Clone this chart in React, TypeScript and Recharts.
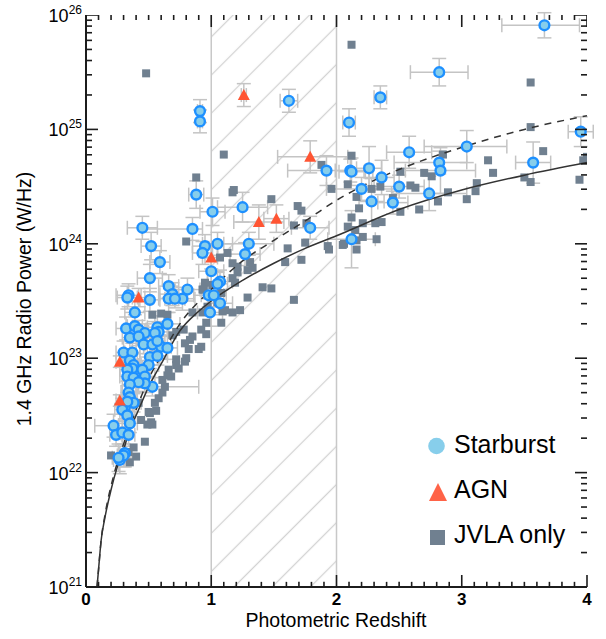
import React from "react";
import {
    ScatterChart,
    Scatter,
    XAxis,
    YAxis,
    ErrorBar,
    ReferenceArea,
    ReferenceLine,
    Legend,
} from "recharts";

type Err = number | [number, number];
type Src = [number, number, Err, Err];

// [redshift, log10 P(1.4GHz), z error, log P error]
const starburst: Src[] = [
    [3.66, 25.91, [0.34, 0.28], 0.11],
    [2.82, 25.5, 0.23, 0.12],
    [2.35, 25.28, 0.05, 0.1],
    [1.62, 25.25, 0.07, 0.1],
    [0.91, 25.16, 0.02, 0.1],
    [0.91, 25.07, 0.02, 0.1],
    [2.1, 25.06, 0.05, 0.12],
    [3.95, 24.98, 0.1, 0.13],
    [3.04, 24.85, [0.34, 0.32], 0.14],
    [2.58, 24.8, 0.18, 0.14],
    [3.57, 24.71, 0.14, 0.18],
    [2.82, 24.71, [0.36, 0.22], 0.1],
    [2.83, 24.64, 0.28, 0.2],
    [1.92, 24.64, [0.31, 0.37], 0.13],
    [2.11, 24.64, 0.12, 0.1],
    [2.12, 24.63, 0.1, 0.12],
    [2.26, 24.66, 0.1, 0.19],
    [2.36, 24.58, 0.1, 0.15],
    [2.2, 24.48, 0.28, 0.1],
    [2.5, 24.5, 0.2, 0.1],
    [2.74, 24.44, 0.3, 0.15],
    [2.28, 24.37, 0.1, 0.2],
    [2.45, 24.36, 0.12, 0.1],
    [1.01, 24.28, 0.1, 0.12],
    [1.25, 24.32, 0.2, 0.13],
    [1.79, 24.14, 0.15, 0.1],
    [2.12, 24.04, 0.19, 0.25],
    [1.3, 24.0, 0.2, 0.1],
    [1.05, 24.0, 0.12, 0.1],
    [0.95, 23.98, 0.1, 0.1],
    [0.88, 24.43, 0.06, 0.12],
    [0.45, 24.14, 0.12, 0.1],
    [0.85, 24.13, [0.4, 0.08], 0.1],
    [0.52, 23.98, 0.08, 0.12],
    [0.93, 23.92, 0.08, 0.1],
    [1.27, 23.91, 0.12, 0.1],
    [1.0, 23.76, 0.1, 0.12],
    [1.07, 23.67, 0.1, 0.1],
    [1.05, 23.65, 0.08, 0.1],
    [0.98, 23.55, 0.12, 0.1],
    [1.02, 23.55, 0.1, 0.1],
    [1.07, 23.48, 0.1, 0.1],
    [0.99, 23.4, 0.1, 0.12],
    [0.59, 23.84, 0.08, 0.1],
    [0.51, 23.7, 0.1, 0.12],
    [0.66, 23.63, 0.08, 0.1],
    [0.81, 23.6, 0.1, 0.1],
    [0.34, 23.55, 0.1, 0.1],
    [0.33, 23.53, 0.08, 0.1],
    [0.51, 23.51, 0.08, 0.1],
    [0.69, 23.56, 0.1, 0.1],
    [0.66, 23.52, 0.08, 0.12],
    [0.77, 23.52, 0.1, 0.1],
    [0.71, 23.52, 0.08, 0.08],
    [0.39, 23.4, 0.08, 0.1],
    [0.65, 23.3, 0.1, 0.1],
    [0.32, 23.26, 0.08, 0.1],
    [0.39, 23.28, 0.06, 0.1],
    [0.42, 23.25, 0.06, 0.08],
    [0.47, 23.22, 0.08, 0.08],
    [0.35, 23.18, 0.06, 0.1],
    [0.42, 23.19, 0.06, 0.08],
    [0.57, 23.27, 0.08, 0.1],
    [0.58, 23.23, 0.08, 0.08],
    [0.55, 23.22, 0.06, 0.1],
    [0.46, 23.12, 0.06, 0.08],
    [0.53, 23.12, 0.06, 0.08],
    [0.6, 23.1, 0.08, 0.1],
    [0.65, 23.09, 0.08, 0.1],
    [0.57, 23.15, 0.06, 0.08],
    [0.3, 23.05, 0.06, 0.1],
    [0.37, 23.05, 0.06, 0.08],
    [0.35, 22.98, 0.06, 0.08],
    [0.38, 22.94, 0.06, 0.1],
    [0.37, 22.91, 0.06, 0.08],
    [0.33, 22.9, 0.06, 0.1],
    [0.51, 23.01, 0.08, 0.1],
    [0.57, 23.02, 0.08, 0.08],
    [0.5, 22.94, 0.08, 0.1],
    [0.33, 22.84, 0.06, 0.08],
    [0.38, 22.83, 0.06, 0.08],
    [0.45, 22.9, 0.06, 0.08],
    [0.47, 22.84, 0.08, 0.1],
    [0.53, 22.75, [0.13, 0.37], 0.08],
    [0.47, 22.78, 0.06, 0.08],
    [0.42, 22.79, 0.06, 0.08],
    [0.35, 22.77, 0.06, 0.08],
    [0.34, 22.7, 0.06, 0.1],
    [0.35, 22.66, 0.06, 0.1],
    [0.38, 22.61, 0.06, 0.08],
    [0.31, 22.57, 0.06, 0.1],
    [0.33, 22.62, 0.06, 0.08],
    [0.29, 22.55, 0.06, 0.1],
    [0.33, 22.5, 0.06, 0.1],
    [0.35, 22.43, 0.06, 0.08],
    [0.22, 22.41, [0.15, 0.04], 0.1],
    [0.24, 22.33, 0.05, 0.1],
    [0.29, 22.35, 0.05, 0.1],
    [0.34, 22.33, 0.05, 0.1],
    [0.31, 22.17, 0.05, 0.12],
    [0.27, 22.11, 0.05, 0.12],
    [0.3, 22.15, 0.05, 0.1],
    [0.26, 22.13, 0.05, 0.12],
];

const agn: Src[] = [
    [1.26, 25.3, 0.02, 0.1],
    [1.79, 24.76, [0.26, 0.3], 0.14],
    [1.38, 24.19, 0.2, 0.15],
    [1.52, 24.22, 0.1, 0.12],
    [1.0, 23.88, 0.05, 0.1],
    [0.42, 23.53, 0.05, 0.08],
    [0.27, 22.97, 0.03, 0.05],
    [0.27, 22.63, 0.03, 0.05],
];

const jvlaOnly: [number, number][] = [
    [2.12, 25.74], [3.55, 25.41], [3.55, 25.02], [0.48, 25.49], [1.1, 24.78], [2.12, 24.77],
    [3.65, 24.81], [4.0, 24.76], [3.97, 24.73], [3.21, 24.73], [3.25, 24.62], [2.85, 24.78],
    [1.88, 24.69], [3.5, 24.58], [3.55, 24.54], [3.94, 24.56], [3.12, 24.53], [3.11, 24.46],
    [3.04, 24.39], [2.89, 24.45], [2.81, 24.37], [2.66, 24.3], [2.76, 24.59], [2.7, 24.62],
    [2.51, 24.63], [2.59, 24.51], [2.63, 24.49], [2.45, 24.4], [2.51, 24.28], [2.35, 24.5],
    [2.28, 24.48], [2.16, 24.41], [2.18, 24.31], [2.12, 24.23], [2.09, 24.15], [2.15, 24.12],
    [2.21, 24.18], [2.21, 24.06], [2.31, 24.18], [2.36, 24.19], [2.32, 24.04], [2.09, 24.52],
    [1.96, 24.48], [1.17, 24.45], [1.48, 24.39], [1.69, 24.33], [1.72, 24.29], [1.76, 24.18],
    [1.66, 24.16], [1.61, 23.96], [1.75, 24.01], [1.93, 23.98], [2.06, 24.0], [2.16, 24.03],
    [2.16, 23.95], [1.94, 23.95], [2.05, 23.99], [1.59, 23.84], [1.72, 23.86], [1.41, 23.62],
    [1.48, 23.61], [1.66, 23.51], [1.13, 23.92], [1.07, 23.88], [1.17, 23.83], [1.21, 23.8],
    [1.21, 23.75], [1.31, 23.84], [1.33, 23.79], [1.29, 23.77], [0.95, 23.66], [0.93, 23.6],
    [1.01, 23.64], [1.17, 23.7], [1.19, 23.66], [1.29, 23.53], [1.23, 23.42], [1.17, 23.4],
    [1.11, 23.42], [1.05, 23.49], [1.09, 23.41], [1.08, 23.31], [0.96, 23.31], [0.92, 23.25],
    [0.96, 23.21], [0.85, 23.19], [0.83, 23.16], [0.79, 23.13], [0.78, 23.25], [0.72, 23.23],
    [0.69, 23.2], [0.9, 23.08], [0.79, 22.97], [0.74, 22.91], [0.72, 22.99], [0.65, 22.85],
    [0.61, 22.81], [0.63, 22.75], [0.61, 22.7], [0.58, 22.65], [0.55, 22.61], [0.51, 22.52],
    [0.53, 22.42], [0.85, 23.4], [0.93, 23.4], [0.97, 23.45], [1.08, 23.57], [0.92, 23.1],
    [0.82, 23.08], [0.8, 23.0], [0.72, 22.94], [0.66, 22.9], [0.68, 22.84], [0.5, 22.53],
    [0.52, 22.44], [0.49, 22.42], [0.47, 22.27], [0.44, 22.46], [0.42, 22.61], [0.2, 22.15],
    [0.34, 22.18], [0.38, 22.22], [0.4, 22.14], [0.56, 22.54], [0.8, 24.02], [0.94, 23.6],
    [0.53, 23.38], [0.6, 23.39], [0.65, 23.38], [0.88, 24.58], [1.18, 24.47], [0.35, 22.09],
];

// detection limit curves
const limitSolid: [number, number][] = [
    [0.088, 21.0], [0.1, 21.15], [0.12, 21.4], [0.15, 21.6], [0.2, 21.85], [0.25, 22.05],
    [0.3, 22.2], [0.35, 22.38], [0.4, 22.5], [0.5, 22.75], [0.6, 22.95], [0.75, 23.24],
    [0.9, 23.41], [1.0, 23.5], [1.25, 23.68], [1.5, 23.83], [1.75, 23.96], [2.0, 24.07],
    [2.5, 24.3], [3.0, 24.47], [3.5, 24.6], [4.0, 24.71],
];

const limitDashed: [number, number][] = [
    [0.088, 21.0], [0.1, 21.15], [0.12, 21.4], [0.15, 21.62], [0.22, 21.97], [0.3, 22.25],
    [0.4, 22.55], [0.5, 22.82], [0.6, 23.02], [0.75, 23.3], [1.0, 23.6], [1.25, 23.85],
    [1.5, 24.03], [1.75, 24.2], [2.0, 24.38], [2.35, 24.58], [2.5, 24.65], [3.05, 24.86],
    [3.5, 25.0], [4.0, 25.12],
];

const xMajor = [0, 1, 2, 3, 4];
const yMajor = [21, 22, 23, 24, 25, 26];
const legendLabels = ["Starburst", "AGN", "JVLA only"];

const xMinor: number[] = [];
for (let i = 1; i < 40; i++) if (i % 10 !== 0) xMinor.push(i / 10);
const yMinor: number[] = [];
for (let d = 21; d < 26; d++) for (let k = 2; k < 10; k++) yMinor.push(d + Math.log10(k));
const xTicks = [...xMajor, ...xMinor];

const toRows = (pts: Src[]) => pts.map(([z, p, ez, ep]) => ({ z, p, ez, ep }));
const sbRows = toRows(starburst);
const agnRows = toRows(agn);
const jvlaRows = jvlaOnly.map(([z, p]) => ({ z, p }));
const solidRows = limitSolid.map(([z, p]) => ({ z, p }));
const dashedRows = limitDashed.map(([z, p]) => ({ z, p }));

// inward frame ticks (top, left, right), placed through the chart scales
const frameRows = [
    ...xTicks.map((v) => ({ z: v, p: 26, side: "t", major: Number.isInteger(v) })),
    ...[...yMajor, ...yMinor].flatMap((v) => [
        { z: 0, p: v, side: "l", major: Number.isInteger(v) },
        { z: 4, p: v, side: "r", major: Number.isInteger(v) },
    ]),
];

const FONT = "'Liberation Sans', Arial, Helvetica, sans-serif";
const AXIS = "#1c1c1c";
const ERR = "#c4c4c4";
const SB_FILL = "#87CEEB";
const SB_EDGE = "#1E90FF";
const AGN_COLOR = "#FF5533";
const JVLA_COLOR = "#708090";

const BottomLabel = ({ x, y, payload }: any) => (
    <text x={x} y={y + 18} textAnchor="middle" fontSize={17} fontWeight={600} fill="#000">
        {payload.value}
    </text>
);

const LeftLabel = ({ x, y, payload }: any) => (
    <text x={x - 4} y={y + 7} textAnchor="end" fontSize={18} fill="#000">
        10<tspan dy={-8} fontSize={12}>{payload.value}</tspan>
    </text>
);

const TickMark = ({ cx, cy, payload }: any) => {
    const { side, major } = payload;
    const len = major ? 12 : side === "t" ? 5 : 6;
    let d = "";
    if (side === "t") d = `M${cx},${cy}V${cy + len}`;
    else if (side === "l") d = `M${cx},${cy}H${cx + len}`;
    else d = `M${cx},${cy}H${cx - len}`;
    return <path d={d} stroke={AXIS} strokeWidth={1.6} fill="none" />;
};

const Circle = ({ cx, cy }: any) => (
    <circle cx={cx} cy={cy} r={4.9} fill={SB_FILL} stroke={SB_EDGE} strokeWidth={2.4} />
);

const Triangle = ({ cx, cy }: any) => (
    <polygon points={`${cx - 6},${cy + 5} ${cx + 6},${cy + 5} ${cx},${cy - 6}`} fill={AGN_COLOR} />
);

const Square = ({ cx, cy }: any) => (
    <rect x={cx - 4} y={cy - 4} width={8} height={8} fill={JVLA_COLOR} />
);

const Nothing = () => null;

const renderLegend = () => (
    <svg width={180} height={130} style={{ fontFamily: FONT }}>
        <circle cx={16.5} cy={21} r={8.3} fill={SB_FILL} />
        <text x={34} y={28} fontSize={25}>{legendLabels[0]}</text>
        <polygon points="9,76 27,76 18,58" fill="#FF6347" />
        <text x={34} y={73} fontSize={25}>{legendLabels[1]}</text>
        <rect x={10} y={105} width={15} height={15} fill={JVLA_COLOR} />
        <text x={34} y={118} fontSize={25}>{legendLabels[2]}</text>
    </svg>
);

const YTitle = () => (
    <text x={31} y={299} transform="rotate(-90 31 299)" textAnchor="middle" fontSize={19.5} fill="#000">
        1.4 GHz Radio Power (W/Hz)
    </text>
);

const XTitle = () => (
    <text x={336} y={627} textAnchor="middle" fontSize={19.5} fill="#000">
        Photometric Redshift
    </text>
);

export default function App() {
    return (
        <div style={{ position: "absolute", left: 0, top: 0, width: 606, height: 639, background: "#fff", fontFamily: FONT }}>
            <ScatterChart width={606} height={639} margin={{ top: 15, right: 19, bottom: 0, left: 0 }}>
                <defs>
                    <pattern id="hatch" patternUnits="userSpaceOnUse" width={27} height={27} patternTransform="rotate(45)">
                        <line x1={13.5} y1={0} x2={13.5} y2={27} stroke="#d2d2d2" strokeWidth={1.3} />
                    </pattern>
                </defs>

                <XAxis
                    type="number"
                    dataKey="z"
                    domain={[0, 4]}
                    ticks={xMajor}
                    interval={0}
                    allowDataOverflow
                    height={52}
                    tickLine={false}
                    tickSize={0}
                    tickMargin={0}
                    tick={<BottomLabel />}
                    axisLine={{ stroke: AXIS, strokeWidth: 2 }}
                    label={<XTitle />}
                />
                <XAxis
                    xAxisId="top"
                    orientation="top"
                    type="number"
                    dataKey="z"
                    domain={[0, 4]}
                    allowDataOverflow
                    height={0}
                    tick={false}
                    tickLine={false}
                    axisLine={{ stroke: AXIS, strokeWidth: 2 }}
                />
                <YAxis
                    type="number"
                    dataKey="p"
                    domain={[21, 26]}
                    ticks={yMajor}
                    interval={0}
                    allowDataOverflow
                    width={86}
                    tickLine={false}
                    tickSize={0}
                    tickMargin={0}
                    tick={<LeftLabel />}
                    axisLine={{ stroke: AXIS, strokeWidth: 2 }}
                    label={<YTitle />}
                />
                <YAxis
                    yAxisId="right"
                    orientation="right"
                    type="number"
                    dataKey="p"
                    domain={[21, 26]}
                    allowDataOverflow
                    width={0}
                    tick={false}
                    tickLine={false}
                    axisLine={{ stroke: AXIS, strokeWidth: 2 }}
                />

                <ReferenceArea x1={1} x2={2} y1={21} y2={26} fill="url(#hatch)" fillOpacity={1} stroke="none" />
                <ReferenceLine x={1} stroke="#c8c8c8" strokeWidth={1.5} />
                <ReferenceLine x={2} stroke="#c8c8c8" strokeWidth={1.5} />
                {/* bottom frame ticks, pointing up into the plot */}
                {xTicks.map((v) => (
                    <ReferenceLine
                        key={`bt${v}`}
                        segment={[{ x: v, y: 21 }, { x: v, y: Number.isInteger(v) ? 21.105 : 21.045 }]}
                        stroke={AXIS}
                        strokeWidth={1.6}
                        ifOverflow="visible"
                    />
                ))}

                {/* error bars first, so markers sit on top */}
                <Scatter data={sbRows} shape={<Nothing />} isAnimationActive={false}>
                    <ErrorBar dataKey="ez" direction="x" width={7} stroke={ERR} strokeWidth={1.5} />
                    <ErrorBar dataKey="ep" direction="y" width={7} stroke={ERR} strokeWidth={1.5} />
                </Scatter>
                <Scatter data={agnRows} shape={<Nothing />} isAnimationActive={false}>
                    <ErrorBar dataKey="ez" direction="x" width={7} stroke={ERR} strokeWidth={1.5} />
                    <ErrorBar dataKey="ep" direction="y" width={7} stroke={ERR} strokeWidth={1.5} />
                </Scatter>

                <Scatter data={jvlaRows} shape={<Square />} isAnimationActive={false} />

                <Scatter
                    data={solidRows}
                    shape={<Nothing />}
                    line={{ stroke: "#333", strokeWidth: 1.5 }}
                    lineJointType="monotoneX"
                    isAnimationActive={false}
                />
                <Scatter
                    data={dashedRows}
                    shape={<Nothing />}
                    line={{ stroke: "#333", strokeWidth: 1.5, strokeDasharray: "7 6" }}
                    lineJointType="monotoneX"
                    isAnimationActive={false}
                />

                <Scatter data={sbRows} shape={<Circle />} isAnimationActive={false} />
                <Scatter data={agnRows} shape={<Triangle />} isAnimationActive={false} />

                <Scatter data={frameRows} shape={<TickMark />} isAnimationActive={false} />

                <Legend
                    content={renderLegend}
                    layout="vertical"
                    align="center"
                    verticalAlign="middle"
                    wrapperStyle={{ left: 420, top: 425, width: 180, height: 130 }}
                />
            </ScatterChart>
        </div>
    );
}
